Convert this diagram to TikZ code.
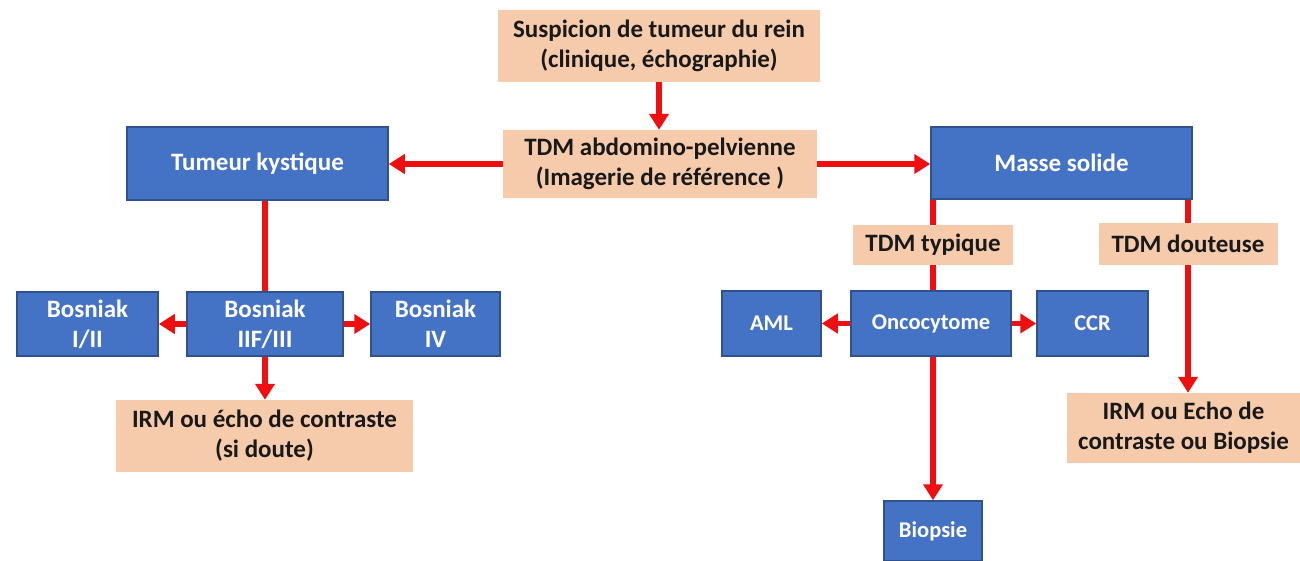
\documentclass[tikz,border=0pt]{standalone}
\usepackage{fontspec}
\setmainfont{Carlito}
\usepackage{tikz}
\usetikzlibrary{arrows.meta}

\definecolor{boxblue}{RGB}{68,114,196}
\definecolor{boxborder}{RGB}{47,82,143}
\definecolor{boxpeach}{RGB}{246,203,172}
\definecolor{arrowred}{RGB}{238,16,16}

\begin{document}
\begin{tikzpicture}[x=1pt,y=-1pt,
    bluebox/.style={draw=boxborder, line width=1.5pt, fill=boxblue, text=white,
        font=\bfseries\fontsize{25}{30}\selectfont, align=center, inner sep=0pt},
    smallblue/.style={bluebox, font=\bfseries\fontsize{22.5}{27}\selectfont},
    peachbox/.style={fill=boxpeach, text=black!90, font=\bfseries\fontsize{25}{30}\selectfont,
        align=center, inner sep=0pt},
    redline/.style={draw=arrowred, line width=5.5pt},
    redarrow/.style={redline, -{Triangle[width=19pt,length=16pt]}}]
    \useasboundingbox (0,0) rectangle (1300,560);

    % Top of the chart
    \node[peachbox, minimum width=322pt, minimum height=72pt] (susp) at (659,46)
        {Suspicion de tumeur du rein\\(clinique, échographie)};
    \node[peachbox, minimum width=314pt, minimum height=68pt] (tdm) at (660,164)
        {TDM abdomino-pelvienne\\(Imagerie de référence )};

    % Cystic branch
    \node[bluebox, minimum width=261pt, minimum height=73pt] (kyst) at (257.5,163.5) {Tumeur kystique};
    \node[bluebox, minimum width=141pt, minimum height=64pt] (bone) at (87.5,324) {Bosniak\\I/II};
    \node[bluebox, minimum width=156pt, minimum height=64pt] (btwo) at (265,324) {Bosniak\\IIF/III};
    \node[bluebox, minimum width=129pt, minimum height=64pt] (bthree) at (435.5,324) {Bosniak\\IV};
    \node[peachbox, minimum width=297pt, minimum height=72pt] (irmk) at (264.5,436)
        {IRM ou écho de contraste\\(si doute)};

    % Solid branch
    \node[bluebox, minimum width=261pt, minimum height=72pt] (masse) at (1061.5,163) {Masse solide};
    \node[peachbox, minimum width=160pt, minimum height=40pt] (typ) at (933,245) {TDM typique};
    \node[peachbox, minimum width=179pt, minimum height=42pt] (dout) at (1188,244) {TDM douteuse};
    \node[smallblue, minimum width=99pt, minimum height=65pt] (aml) at (771.5,323.5) {AML};
    \node[smallblue, minimum width=160pt, minimum height=65pt] (onco) at (931,323.5) {Oncocytome};
    \node[smallblue, minimum width=111pt, minimum height=65pt] (ccr) at (1092.5,323.5) {CCR};
    \node[smallblue, minimum width=98pt, minimum height=60pt] (biop) at (933,531) {Biopsie};
    \node[peachbox, minimum width=233pt, minimum height=70pt] (irms) at (1183.5,428)
        {IRM ou Echo de\\contraste ou Biopsie};

    % Arrows
    \draw[redarrow] (susp.south) -- (susp.south |- tdm.north);
    \draw[redarrow] (tdm.west) -- (kyst.east |- tdm.west);
    \draw[redarrow] (tdm.east) -- (masse.west |- tdm.east);
    \draw[redline] (btwo.north) -- (btwo.north |- kyst.south);
    \draw[redarrow] (btwo.west) -- (bone.east);
    \draw[redarrow] (btwo.east) -- (bthree.west);
    \draw[redarrow] (btwo.south) -- (btwo.south |- irmk.north);
    \draw[redline] (masse.south -| typ.north) -- (typ.north);
    \draw[redline] (typ.south) -- (typ.south |- onco.north);
    \draw[redarrow] (onco.west) -- (aml.east);
    \draw[redarrow] (onco.east) -- (ccr.west);
    \draw[redarrow] (typ.south |- onco.south) -- (typ.south |- biop.north);
    \draw[redline] (masse.south -| dout.north) -- (dout.north);
    \draw[redarrow] (dout.south) -- (dout.south |- irms.north);
\end{tikzpicture}
\end{document}
